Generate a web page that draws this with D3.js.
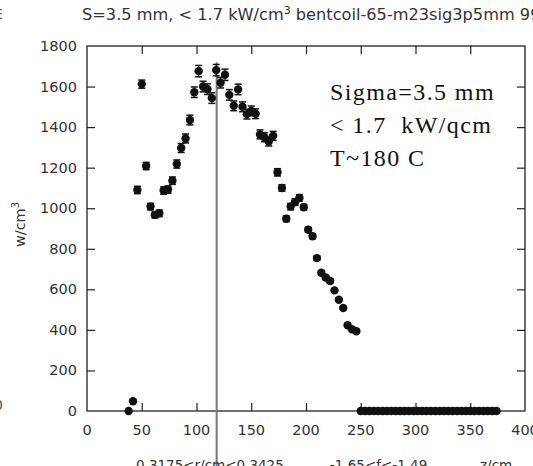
<!DOCTYPE html>
<html>
<head>
<meta charset="utf-8">
<script src="https://cdn.jsdelivr.net/npm/d3@7"></script>
<style>
  body { margin: 0; background: #fff; }
  svg { display: block; }
</style>
</head>
<body>
<svg id="chart"></svg>
<script>
// z bins (cm) and power density (w/cm^3)
const zBins = [38, 42, 46, 50, 54, 58, 62, 66, 70, 74, 78, 82, 86, 90, 94, 98, 102, 106, 110, 114,
  118, 122, 126, 130, 134, 138, 142, 146, 150, 154, 158, 162, 166, 170, 174, 178, 182, 186, 190, 194,
  198, 202, 206, 210, 214, 218, 222, 226, 230, 234, 238, 242, 246,
  250, 254, 258, 262, 266, 270, 274, 278, 282, 286, 290, 294, 298, 302, 306, 310, 314, 318,
  322, 326, 330, 334, 338, 342, 346, 350, 354, 358, 362, 366, 370, 374];
const wValues = [0, 48, 1090, 1612, 1208, 1008, 967, 975, 1087, 1092, 1136, 1218, 1297, 1344, 1435, 1572, 1676, 1600, 1587, 1543,
  1681, 1619, 1658, 1559, 1505, 1586, 1500, 1464, 1480, 1466, 1364, 1350, 1329, 1357, 1177, 1100, 948, 1008, 1030, 1051,
  1005, 894, 862, 754, 682, 658, 641, 595, 549, 508, 423, 403, 393,
  0, 0, 0, 0, 0, 0, 0, 0, 0, 0, 0, 0, 0, 0, 0, 0, 0, 0, 0, 0,
  0, 0, 0, 0, 0, 0, 0, 0, 0, 0, 0, 0];
const wErrors = [0, 5, 18, 20, 18, 16, 15, 16, 18, 18, 18, 20, 22, 22, 24, 26, 28, 26, 26, 26,
  28, 26, 28, 26, 24, 26, 24, 24, 24, 24, 22, 22, 22, 22, 18, 16, 14, 16, 16, 16,
  14, 12, 12, 10, 10, 10, 10, 8, 8, 8, 6, 6, 6,
  0, 0, 0, 0, 0, 0, 0, 0, 0, 0, 0, 0, 0, 0, 0, 0, 0, 0, 0, 0,
  0, 0, 0, 0, 0, 0, 0, 0, 0, 0, 0, 0];
const xTicks = [0, 50, 100, 150, 200, 250, 300, 350, 400];
const yTicks = [0, 200, 400, 600, 800, 1000, 1200, 1400, 1600, 1800];
const markerZ = 118.4;
const noteLines = ["Sigma=3.5 mm", "< 1.7  kW/qcm", "T~180 C"];
const captionParts = [["0.3175<r/cm<0.3425", 136], ["-1.65<f<-1.49", 330], ["z/cm", 480]];

const W = 533, H = 466;
const margin = {top: 46, right: 8, bottom: 55, left: 87};
const width = W - margin.left - margin.right;
const height = H - margin.top - margin.bottom;
const sans = "DejaVu Sans, sans-serif";

const svg = d3.select("#chart").attr("width", W).attr("height", H);
const g = svg.append("g").attr("transform", "translate(" + margin.left + "," + margin.top + ")");

const x = d3.scaleLinear().domain([0, 400]).range([0, width]);
const y = d3.scaleLinear().domain([0, 1800]).range([height, 0]);

const data = zBins.map(function (z, i) { return {z: z, w: wValues[i], e: wErrors[i]}; });

// axes, ticks pointing inward
const styleAxis = function (sel) {
  sel.select(".domain").remove();
  sel.selectAll(".tick line").attr("stroke", "#222").attr("stroke-width", 1.2);
};
g.append("g").attr("transform", "translate(0," + height + ")")
  .call(d3.axisBottom(x).tickValues(xTicks.slice(1, -1)).tickSize(-8).tickFormat(""))
  .call(styleAxis);
g.append("g")
  .call(d3.axisTop(x).tickValues(xTicks.slice(1, -1)).tickSize(-8).tickFormat(""))
  .call(styleAxis);
g.append("g")
  .call(d3.axisLeft(y).tickValues(yTicks.slice(1, -1)).tickSize(-8).tickFormat(""))
  .call(styleAxis);
g.append("g").attr("transform", "translate(" + width + ",0)")
  .call(d3.axisRight(y).tickValues(yTicks.slice(1, -1)).tickSize(-8).tickFormat(""))
  .call(styleAxis);

// tick labels
g.selectAll(".xlab").data(xTicks).enter().append("text")
  .attr("x", function (d) { return x(d); })
  .attr("y", height + 24)
  .attr("text-anchor", "middle")
  .style("font-family", sans).style("font-size", "14.5px").style("fill", "#333")
  .text(function (d) { return d; });
g.selectAll(".ylab").data(yTicks).enter().append("text")
  .attr("x", -10)
  .attr("y", function (d) { return y(d) + 5; })
  .attr("text-anchor", "end")
  .style("font-family", sans).style("font-size", "14.5px").style("fill", "#333")
  .text(function (d) { return d; });

// frame
g.append("rect").attr("width", width).attr("height", height)
  .attr("fill", "none").attr("stroke", "#222").attr("stroke-width", 1.3);

// vertical marker line
g.append("line")
  .attr("x1", x(markerZ)).attr("x2", x(markerZ))
  .attr("y1", y(1720)).attr("y2", H - margin.top)
  .attr("stroke", "#777").attr("stroke-width", 2);

// error bars
const eb = g.selectAll(".err").data(data.filter(function (d) { return d.e > 0; })).enter().append("g");
eb.append("line")
  .attr("x1", function (d) { return x(d.z); }).attr("x2", function (d) { return x(d.z); })
  .attr("y1", function (d) { return y(d.w + d.e); }).attr("y2", function (d) { return y(d.w - d.e); })
  .attr("stroke", "#111").attr("stroke-width", 1.2);
eb.append("line")
  .attr("x1", function (d) { return x(d.z) - 3.5; }).attr("x2", function (d) { return x(d.z) + 3.5; })
  .attr("y1", function (d) { return y(d.w + d.e); }).attr("y2", function (d) { return y(d.w + d.e); })
  .attr("stroke", "#111").attr("stroke-width", 1.5);
eb.append("line")
  .attr("x1", function (d) { return x(d.z) - 3.5; }).attr("x2", function (d) { return x(d.z) + 3.5; })
  .attr("y1", function (d) { return y(d.w - d.e); }).attr("y2", function (d) { return y(d.w - d.e); })
  .attr("stroke", "#111").attr("stroke-width", 1.5);

// points
g.selectAll(".pt").data(data).enter().append("circle")
  .attr("cx", function (d) { return x(d.z); })
  .attr("cy", function (d) { return y(d.w); })
  .attr("r", 4.2)
  .attr("fill", "#111");

// annotation
g.selectAll(".note").data(noteLines).enter().append("text")
  .attr("x", 243)
  .attr("y", function (d, i) { return 54 + i * 33; })
  .style("font-family", "Liberation Serif, serif").style("font-size", "24px")
  .style("letter-spacing", "1.4px").style("fill", "#111")
  .attr("xml:space", "preserve")
  .text(function (d) { return d; });

// y label
svg.append("text")
  .attr("transform", "translate(25," + (margin.top + height / 2 - 4) + ") rotate(-90)")
  .attr("text-anchor", "middle")
  .style("font-family", sans).style("font-size", "14.5px").style("fill", "#333")
  .html("w/cm<tspan dy='-6' font-size='10px'>3</tspan>");

// title (clipped at the right edge)
svg.append("text")
  .attr("x", 82).attr("y", 20)
  .style("font-family", sans).style("font-size", "16.2px").style("fill", "#333")
  .html("S=3.5 mm, &lt; 1.7 kW/cm<tspan dy='-6' font-size='11px'>3</tspan><tspan dy='6'> bentcoil-65-m23sig3p5mm 99</tspan>");

// cut-off bottom caption
svg.selectAll(".cap").data(captionParts).enter().append("text")
  .attr("x", function (d) { return d[1]; }).attr("y", 470)
  .style("font-family", sans).style("font-size", "13.5px").style("fill", "#333")
  .text(function (d) { return d[0]; });

// fragments of neighbouring panel at the left edge
svg.append("text").attr("x", -6).attr("y", 19)
  .style("font-family", sans).style("font-size", "14px").style("fill", "#555").text("E");
svg.append("text").attr("x", -6).attr("y", 410)
  .style("font-family", sans).style("font-size", "14px").style("fill", "#555").text("0");
</script>
</body>
</html>
